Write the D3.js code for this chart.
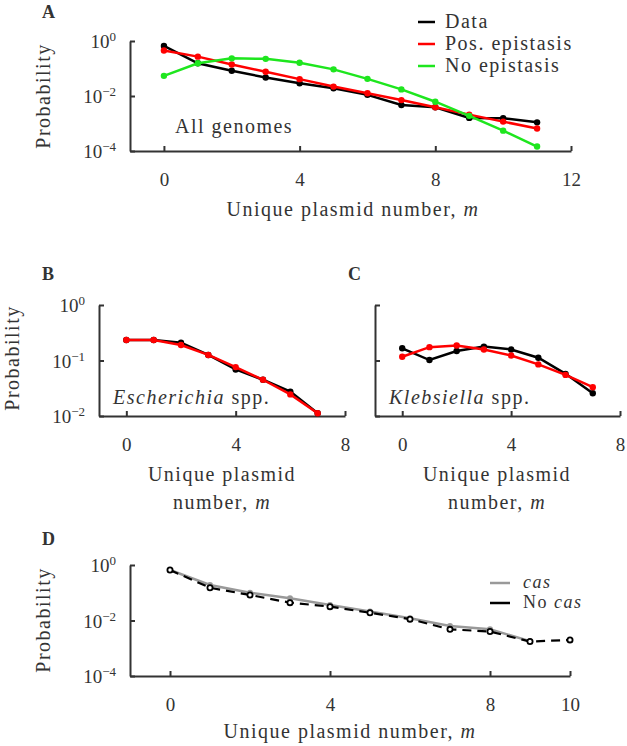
<!DOCTYPE html>
<html>
<head>
<meta charset="utf-8">
<script src="https://cdn.jsdelivr.net/npm/d3@7"></script>
<style>
  body { margin: 0; background: #fff; }
  svg text { fill: #333; }
  .axis path, .axis line { stroke: #333; stroke-width: 2; }
</style>
</head>
<body>
<div id="plot"></div>
<script>
// ---- data ----
var mA = [0, 1, 2, 3, 4, 5, 6, 7, 8, 9, 10, 11];
var allData = [0.66, 0.155, 0.083, 0.047, 0.029, 0.019, 0.011, 0.0047, 0.0039, 0.0016, 0.00155, 0.0011];
var allPosEpi = [0.45, 0.27, 0.14, 0.076, 0.041, 0.022, 0.0126, 0.0071, 0.0039, 0.0021, 0.00117, 0.00066];
var allNoEpi = [0.054, 0.155, 0.234, 0.224, 0.162, 0.093, 0.042, 0.0174, 0.0062, 0.0019, 0.00055, 0.000145];

var mBC = [0, 1, 2, 3, 4, 5, 6, 7];
var escData = [0.234, 0.234, 0.209, 0.126, 0.069, 0.045, 0.0275, 0.0112];
var escModel = [0.234, 0.234, 0.19, 0.126, 0.076, 0.045, 0.0245, 0.0112];
var klebData = [0.166, 0.102, 0.148, 0.178, 0.158, 0.112, 0.0575, 0.0257];
var klebModel = [0.117, 0.174, 0.186, 0.158, 0.123, 0.085, 0.055, 0.033];

var mCas = [0, 1, 2, 3, 4, 5, 6, 7, 8, 9];
var casVals = [0.66, 0.19, 0.1, 0.063, 0.036, 0.021, 0.012, 0.0063, 0.0048, 0.0018];
var mNoCas = [0, 1, 2, 3, 4, 5, 6, 7, 8, 9, 10];
var noCasVals = [0.66, 0.151, 0.083, 0.044, 0.0316, 0.019, 0.0112, 0.0048, 0.004, 0.00174, 0.002];

var ticksA = [0, 4, 8, 12];
var ticksBC = [0, 4, 8];
var ticksD = [0, 4, 8, 10];
var yTicksWide = [1, 1e-2, 1e-4];
var yTicksNarrow = [1, 1e-1, 1e-2];

var FONT = '"Liberation Serif", "DejaVu Serif", serif';
var LS = "1.5px";   // loosen Times-like glyphs toward the LaTeX look

var svg = d3.select("#plot").append("svg")
  .attr("width", 627)
  .attr("height", 746)
  .style("font-family", FONT);

// superscript tick labels like 10^-2
function powLabel(sel) {
  sel.each(function(d) {
    var t = d3.select(this);
    var e = Math.round(Math.log10(d));
    t.text("10");
    t.append("tspan")
      .attr("dy", "-0.55em")
      .style("font-size", "13px")
      .text(e === 0 ? "0" : "\u2212" + Math.abs(e));
  });
}

function panel(cfg) {
  var x = d3.scaleLinear().domain(cfg.xDomain).range([cfg.left, cfg.right]);
  var y = d3.scaleLog().domain(cfg.yDomain).range([cfg.bottom, cfg.top]);

  var xAxis = svg.append("g")
    .attr("class", "axis")
    .attr("transform", "translate(0," + cfg.bottom + ")")
    .call(d3.axisBottom(x).tickValues(cfg.xTicks).tickSizeInner(-5).tickSizeOuter(0).tickPadding(22));
  xAxis.attr("font-family", null).style("font-family", FONT);
  xAxis.selectAll("text").style("font-size", "19px").attr("fill", "#333");

  var yAxis = svg.append("g")
    .attr("class", "axis")
    .attr("transform", "translate(" + cfg.left + ",0)")
    .call(d3.axisLeft(y).tickValues(cfg.yTicks).tickSizeInner(-5).tickSizeOuter(0).tickPadding(14));
  yAxis.attr("font-family", null).style("font-family", FONT);
  yAxis.selectAll("text").style("font-size", "19px").attr("fill", "#333").attr("dy", "0.35em");
  if (cfg.yLabels) {
    yAxis.selectAll(".tick text").call(powLabel);
  } else {
    yAxis.selectAll(".tick text").remove();
  }
  return { x: x, y: y };
}

function series(p, xs, ys, color, opts) {
  opts = opts || {};
  var pts = xs.map(function(v, i) { return [v, ys[i]]; });
  var line = d3.line().x(d => p.x(d[0])).y(d => p.y(d[1]));
  svg.append("path")
    .attr("d", line(pts))
    .attr("fill", "none")
    .attr("stroke", color)
    .attr("stroke-width", opts.width || 2.5)
    .attr("stroke-dasharray", opts.dash || null);
  svg.append("g").selectAll("circle")
    .data(pts)
    .enter()
    .append("circle")
    .attr("cx", d => p.x(d[0]))
    .attr("cy", d => p.y(d[1]))
    .attr("r", opts.r || 3.2)
    .attr("fill", opts.fill || color)
    .attr("stroke", opts.fill ? color : "none")
    .attr("stroke-width", 1.8);
}

function ylabel(x, y) {
  svg.append("text")
    .attr("transform", "translate(" + x + "," + y + ") rotate(-90)")
    .attr("text-anchor", "middle")
    .style("font-size", "20px")
    .style("letter-spacing", LS)
    .text("Probability");
}

function panelLetter(x, y, s) {
  svg.append("text")
    .attr("x", x).attr("y", y)
    .style("font-size", "18px")
    .style("font-weight", "bold")
    .attr("fill", "#222")
    .text(s);
}

function label(x, y, parts, anchor, size) {
  var t = svg.append("text")
    .attr("x", x).attr("y", y)
    .attr("text-anchor", anchor || "start")
    .style("font-size", (size || 20) + "px")
    .style("letter-spacing", LS);
  parts.forEach(function(p) {
    t.append("tspan").style("font-style", p[1] ? "italic" : null).text(p[0]);
  });
  return t;
}

/////////////
// Panel A //
/////////////
var pA = panel({ left: 130, right: 571, top: 41, bottom: 151, xDomain: [-1, 12], yDomain: [1e-4, 1],
  xTicks: ticksA, yTicks: yTicksWide, yLabels: true });
series(pA, mA, allData, "#000");
series(pA, mA, allPosEpi, "#ff0000");
series(pA, mA, allNoEpi, "#1ee61e");
panelLetter(42, 18, "A");
ylabel(50, 96);
label(353, 216, [["Unique plasmid number, ", false], ["m", true]], "middle");
label(175, 133, [["All genomes", false]]);

var legendA = [["Data", "#000"], ["Pos. epistasis", "#ff0000"], ["No epistasis", "#1ee61e"]];
legendA.forEach(function(d, i) {
  var yy = 22 + i * 22;
  svg.append("line").attr("x1", 418).attr("x2", 435).attr("y1", yy).attr("y2", yy)
    .attr("stroke", d[1]).attr("stroke-width", 2.5);
  label(445, yy + 6, [[d[0], false]]);
});

/////////////
// Panel B //
/////////////
var pB = panel({ left: 99, right: 345, top: 305, bottom: 416, xDomain: [-1, 8], yDomain: [1e-2, 1],
  xTicks: ticksBC, yTicks: yTicksNarrow, yLabels: true });
series(pB, mBC, escData, "#000");
series(pB, mBC, escModel, "#ff0000");
panelLetter(42, 280, "B");
ylabel(19, 358);
label(222, 481, [["Unique plasmid", false]], "middle");
label(222, 509, [["number, ", false], ["m", true]], "middle");
label(113, 404, [["Escherichia", true], [" spp.", false]]);

/////////////
// Panel C //
/////////////
var pC = panel({ left: 375, right: 620, top: 305, bottom: 416, xDomain: [-1, 8], yDomain: [1e-2, 1],
  xTicks: ticksBC, yTicks: yTicksNarrow, yLabels: false });
series(pC, mBC, klebData, "#000");
series(pC, mBC, klebModel, "#ff0000");
panelLetter(348, 280, "C");
label(497, 481, [["Unique plasmid", false]], "middle");
label(497, 509, [["number, ", false], ["m", true]], "middle");
label(389, 404, [["Klebsiella", true], [" spp.", false]]);

/////////////
// Panel D //
/////////////
var pD = panel({ left: 130, right: 570, top: 565, bottom: 676, xDomain: [-1, 10], yDomain: [1e-4, 1],
  xTicks: ticksD, yTicks: yTicksWide, yLabels: true });
series(pD, mCas, casVals, "#999", { width: 2.5, r: 3 });
series(pD, mNoCas, noCasVals, "#000", { width: 2.2, dash: "9,6", r: 2.6, fill: "#fff" });
panelLetter(42, 545, "D");
ylabel(50, 620);
label(350, 738, [["Unique plasmid number, ", false], ["m", true]], "middle");

var legendD = [[[["cas", true]], "#999"], [[["No ", false], ["cas", true]], "#000"]];
legendD.forEach(function(d, i) {
  var yy = 583 + i * 20;
  svg.append("line").attr("x1", 490).attr("x2", 510).attr("y1", yy).attr("y2", yy)
    .attr("stroke", d[1]).attr("stroke-width", 2.5);
  label(523, yy + 5, d[0], "start", 18);
});
</script>
</body>
</html>
